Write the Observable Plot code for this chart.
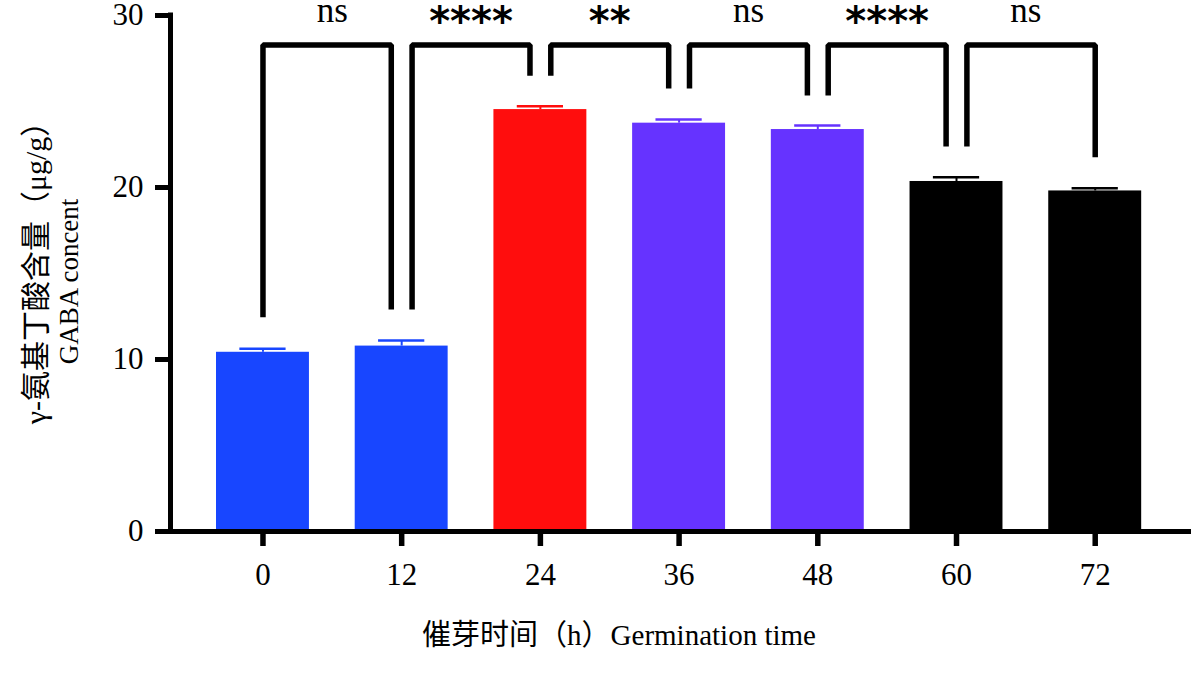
<!DOCTYPE html>
<html><head><meta charset="utf-8">
<script src="https://cdn.jsdelivr.net/npm/d3@7"></script>
<script src="https://cdn.jsdelivr.net/npm/@observablehq/plot@0.6"></script>
<style>body{margin:0;background:#fff}</style>
</head><body><div id="chart"></div>
<script>
// ---- data ----
const hours = [0, 12, 24, 36, 48, 60, 72];
const means = [10.42, 10.78, 24.53, 23.74, 23.37, 20.35, 19.8];
const errors = [0.2, 0.32, 0.19, 0.21, 0.23, 0.25, 0.16];
const barColors = ["#1846ff", "#1846ff", "#ff0d0d", "#6633ff", "#6633ff", "#000000", "#000000"];
const yTicks = [0, 10, 20, 30];
const bracketFrom = [0, 12, 24, 36, 48, 60];
const bracketTo = [12, 24, 36, 48, 60, 72];
const bracketLabels = ["ns", "****", "**", "ns", "****", "ns"];
const legStart = [12.46, 12.9, 26.5, 25.76, 25.35, 22.38];
const legEnd = [12.9, 26.5, 25.76, 25.35, 22.38, 21.76];
const bracketTop = 28.28;
const yTitle1 = "γ-氨基丁酸含量（μg/g）";
const yTitle2 = "GABA concent";
const xTitle = "催芽时间（h）Germination time";

// ---- derived tables ----
const barHalf = 4.02, capHalf = 2.0, legGap = 0.9;
const bars = hours.map((h, i) => ({h, mean: means[i], err: errors[i], color: barColors[i]}));
const last = bracketFrom.length - 1;
const bracketPts = [];
bracketFrom.forEach((a, i) => {
  const b = bracketTo[i];
  const xa = a + (i > 0 ? legGap : 0);
  const xb = b - (i < last ? legGap : 0);
  bracketPts.push({x: xa, y: legStart[i], z: i}, {x: xa, y: bracketTop, z: i},
                  {x: xb, y: bracketTop, z: i}, {x: xb, y: legEnd[i], z: i});
});
const labels = bracketLabels.map((t, i) => ({t, x: (bracketFrom[i] + bracketTo[i]) / 2}));
const serif = "'Liberation Serif', 'Noto Sans CJK SC', serif";

const chart = Plot.plot({
  width: 1191,
  height: 685,
  marginLeft: 170,
  marginRight: 0,
  marginTop: 15,
  marginBottom: 154,
  style: {fontFamily: serif, background: "#fff", color: "#000"},
  x: {domain: [-8, 80.33]},
  y: {domain: [0, 30]},
  color: {type: "identity"},
  marks: [
    Plot.rectY(bars, {x1: d => d.h - barHalf, x2: d => d.h + barHalf, y1: 0, y2: "mean", fill: "color"}),
    Plot.ruleX(bars, {x: "h", y1: "mean", y2: d => d.mean + d.err, stroke: "color", strokeWidth: 2}),
    Plot.ruleY(bars, {y: d => d.mean + d.err, x1: d => d.h - capHalf, x2: d => d.h + capHalf, stroke: "color", strokeWidth: 2.5}),
    Plot.line(bracketPts, {x: "x", y: "y", z: "z", stroke: "#000", strokeWidth: 5.5, strokeLinejoin: "miter", strokeLinecap: "butt"}),
    Plot.text(labels.filter(d => d.t === "ns"), {x: "x", text: "t", frameAnchor: "top", textAnchor: "middle", lineAnchor: "bottom", dy: 6, fontSize: 35, fontFamily: serif}),
    Plot.text(labels.filter(d => d.t !== "ns"), {x: "x", text: "t", frameAnchor: "top", textAnchor: "middle", lineAnchor: "bottom", dy: 19, fontSize: 40, fontWeight: "bold", fontFamily: "'DejaVu Sans', sans-serif"}),
    Plot.ruleY([0], {x1: -8, x2: 80.33, stroke: "#000", strokeWidth: 5}),
    Plot.ruleX([-8], {y1: 0, y2: 30, stroke: "#000", strokeWidth: 5, strokeLinecap: "square"}),
    Plot.axisY({ticks: yTicks, tickSize: 15, tickPadding: 12, fontSize: 31, strokeWidth: 5, label: null, tickFormat: d => String(d)}),
    Plot.axisX({ticks: hours, tickSize: 15, tickPadding: 16, fontSize: 31, strokeWidth: 5.5, label: null, tickFormat: d => String(d)}),
    Plot.text([yTitle1], {frameAnchor: "left", textAnchor: "middle", rotate: -90, dx: -134, dy: -8, fontSize: 30, lineAnchor: "middle", fill: "#000"}),
    Plot.text([yTitle2], {frameAnchor: "left", textAnchor: "middle", rotate: -90, dx: -101, dy: 8, fontSize: 27, lineAnchor: "middle", fill: "#000"}),
    Plot.text([xTitle], {frameAnchor: "bottom", textAnchor: "middle", dx: -62, dy: 104, fontSize: 29, lineAnchor: "middle", fill: "#000"})
  ]
});
document.getElementById("chart").appendChild(chart);
</script>
</body></html>
